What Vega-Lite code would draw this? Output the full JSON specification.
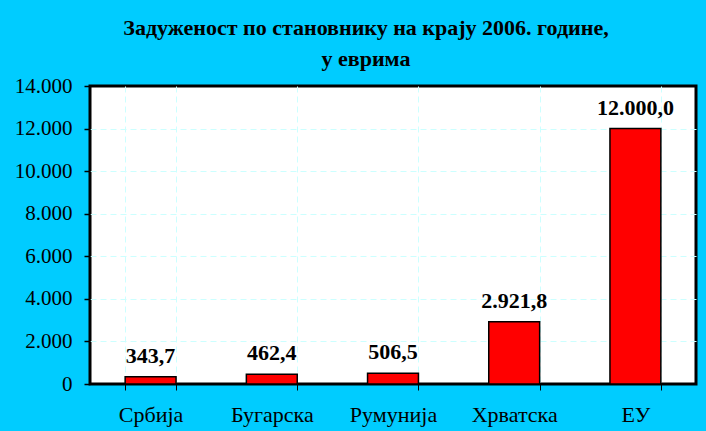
{
  "$schema": "https://vega.github.io/schema/vega-lite/v6.json",
  "width": 606,
  "height": 298,
  "autosize": {"type": "none"},
  "padding": {"left": 90, "top": 86, "right": 10, "bottom": 47},
  "background": "#00CCFF",
  "title": {
    "text": ["Задуженост по становнику на крају 2006. године,", "у еврима"],
    "font": "Liberation Serif",
    "fontSize": 22,
    "fontWeight": "bold",
    "color": "#000000",
    "lineHeight": 31,
    "anchor": "middle",
    "baseline": "alphabetic",
    "offset": 19,
    "dx": -27,
    "dy": 32
  },
  "data": {
    "values": [
      {"zemlja": "Србија", "vrednost": 343.7},
      {"zemlja": "Бугарска", "vrednost": 462.4},
      {"zemlja": "Румунија", "vrednost": 506.5},
      {"zemlja": "Хрватска", "vrednost": 2921.8},
      {"zemlja": "ЕУ", "vrednost": 12000.0}
    ]
  },
  "encoding": {
    "x": {
      "field": "zemlja",
      "type": "nominal",
      "sort": null,
      "scale": {"paddingInner": 0.58, "paddingOuter": 0.29},
      "axis": {
        "title": null,
        "labelAngle": 0,
        "labelFont": "Liberation Serif",
        "labelFontSize": 22,
        "labelColor": "#000000",
        "labelPadding": 14,
        "tickBand": "extent",
        "ticks": true,
        "tickSize": 6,
        "tickColor": "#000000",
        "tickWidth": 1,
        "domain": false,
        "grid": true,
        "gridColor": "#CCFFFF",
        "gridDash": [6, 4],
        "gridWidth": 1
      }
    },
    "y": {
      "field": "vrednost",
      "type": "quantitative",
      "scale": {"domain": [0, 14000], "nice": false},
      "axis": {
        "title": null,
        "values": [0, 2000, 4000, 6000, 8000, 10000, 12000, 14000],
        "format": ",d",
        "labelFont": "Liberation Serif",
        "labelFontSize": 21,
        "labelColor": "#000000",
        "labelPadding": 12,
        "ticks": true,
        "tickSize": 6,
        "tickColor": "#000000",
        "tickWidth": 1.5,
        "domain": false,
        "grid": true,
        "gridColor": {
          "condition": {"test": "datum.value === 0 || datum.value === 14000", "value": "transparent"},
          "value": "#CCFFFF"
        },
        "gridDash": [6, 4],
        "gridWidth": 1
      }
    }
  },
  "layer": [
    {
      "mark": {"type": "bar", "color": "#FF0000", "stroke": "#000000", "strokeWidth": 1.5}
    },
    {
      "mark": {
        "type": "text",
        "font": "Liberation Serif",
        "fontSize": 22,
        "fontWeight": "bold",
        "color": "#000000",
        "baseline": "alphabetic",
        "dy": -14
      },
      "encoding": {
        "text": {"field": "vrednost", "type": "quantitative", "format": ",.1f"}
      }
    }
  ],
  "config": {
    "locale": {
      "number": {"decimal": ",", "thousands": ".", "grouping": [3], "currency": ["", " €"]}
    },
    "view": {"fill": "#FFFFFF", "stroke": "#000000", "strokeWidth": 3}
  }
}
